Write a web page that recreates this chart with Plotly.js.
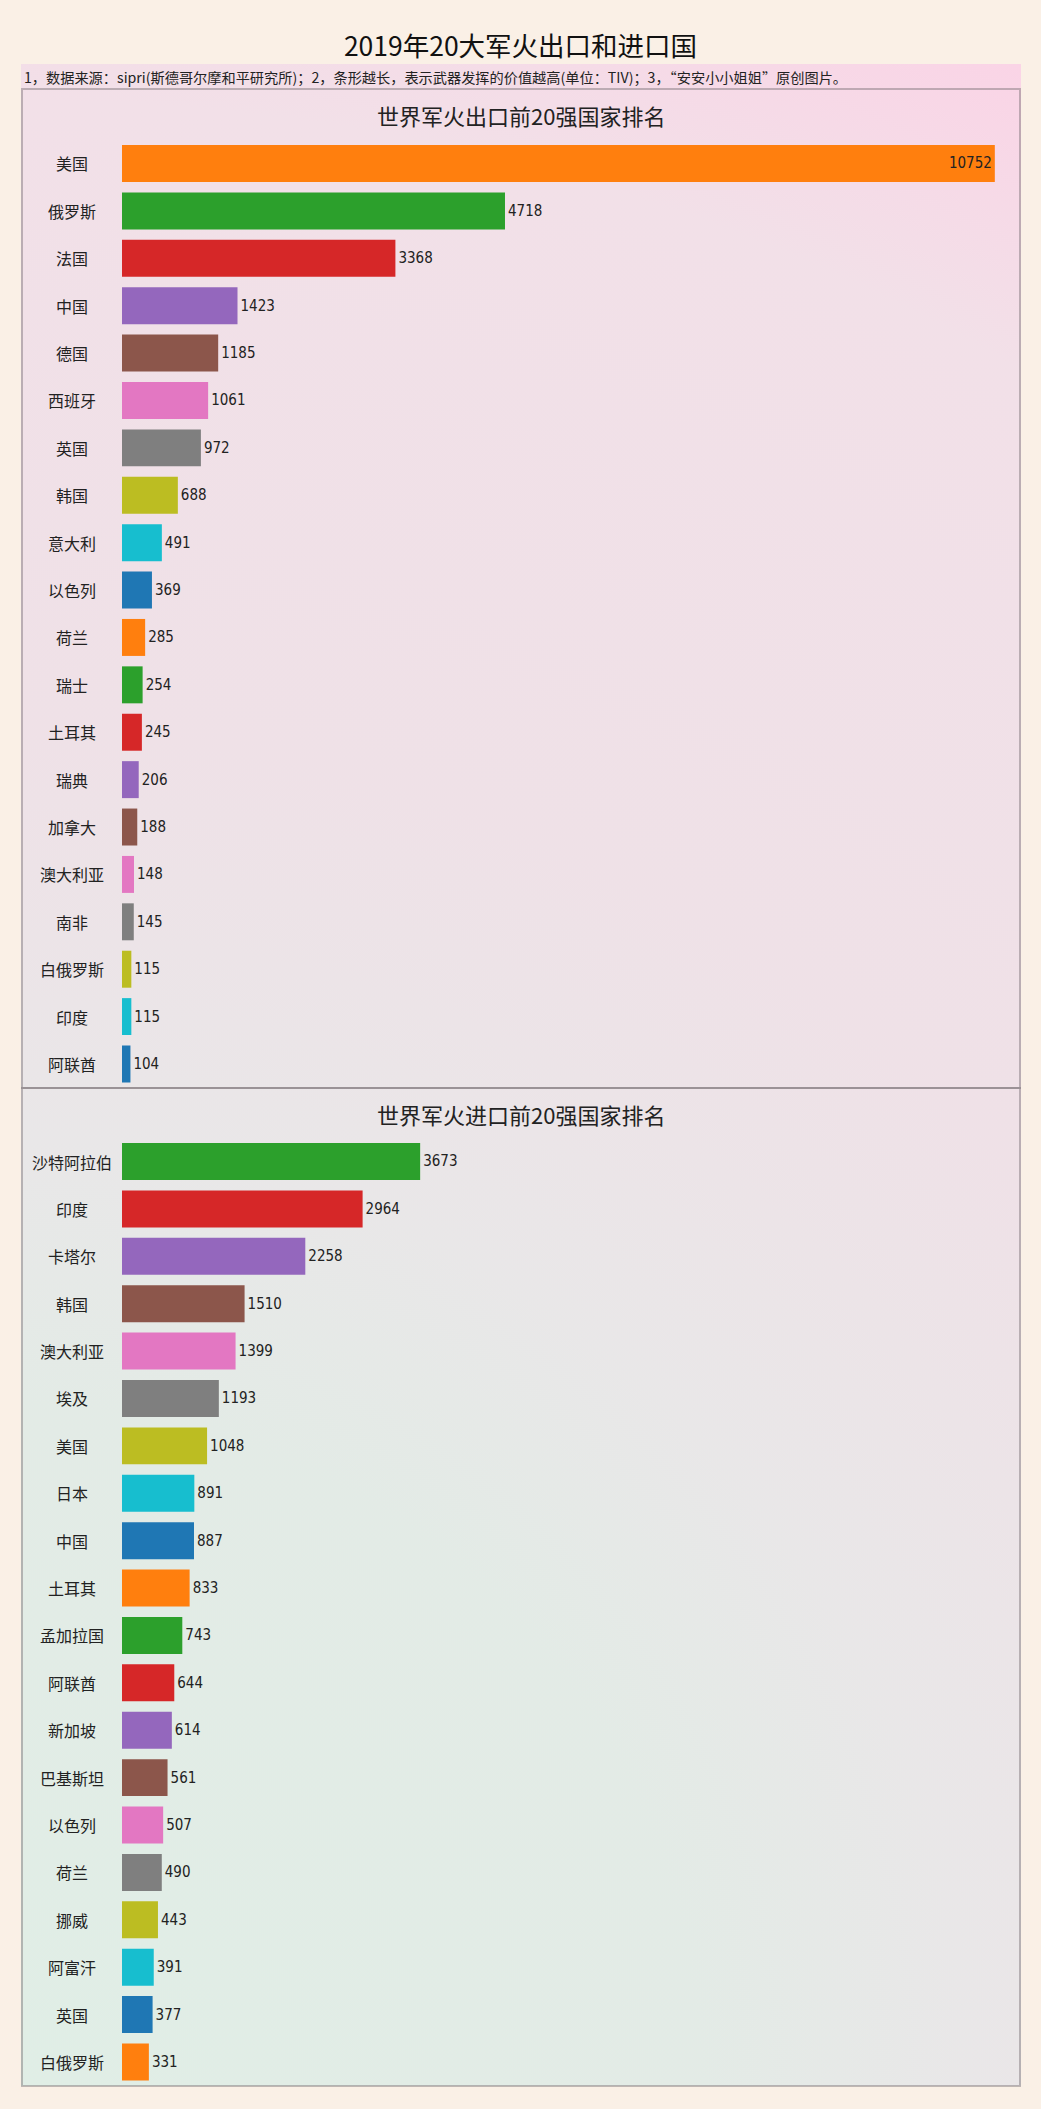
<!DOCTYPE html>
<html><head><meta charset="utf-8">
<script src="https://cdn.plot.ly/plotly-3.0.1.min.js"></script>
<style>html,body{margin:0;padding:0;background:#faf0e6;}#chart{width:1041px;height:2109px;}</style>
</head><body><div id="chart"></div>
<script>
const chartTitle = '2019年20大军火出口和进口国';
const subtitleText = '1，数据来源：sipri(斯德哥尔摩和平研究所)；2，条形越长，表示武器发挥的价值越高(单位：TIV)；3，“安安小小姐姐”原创图片。';
const exportTitle = '世界军火出口前20强国家排名';
const importTitle = '世界军火进口前20强国家排名';

const exportCountries = ['美国','俄罗斯','法国','中国','德国','西班牙','英国','韩国','意大利','以色列','荷兰','瑞士','土耳其','瑞典','加拿大','澳大利亚','南非','白俄罗斯','印度','阿联酋'];
const exportValues = [10752,4718,3368,1423,1185,1061,972,688,491,369,285,254,245,206,188,148,145,115,115,104];

const importCountries = ['沙特阿拉伯','印度','卡塔尔','韩国','澳大利亚','埃及','美国','日本','中国','土耳其','孟加拉国','阿联酋','新加坡','巴基斯坦','以色列','荷兰','挪威','阿富汗','英国','白俄罗斯'];
const importValues = [3673,2964,2258,1510,1399,1193,1048,891,887,833,743,644,614,561,507,490,443,391,377,331];

const palette = ['#1f77b4','#ff7f0e','#2ca02c','#d62728','#9467bd','#8c564b','#e377c2','#7f7f7f','#bcbd22','#17becf'];

const W = 1041, H = 2109;
const px = v => v / W;
const py = v => 1 - v / H;
const FONT = '"Noto Sans CJK SC", "Noto Sans", sans-serif';
const NUMFONT = '"Liberation Sans Narrow", "DejaVu Sans Condensed", "Noto Sans CJK SC", sans-serif';

// background gradient image
function gradientImage() {
  const cw = 1000, ch = 2022;
  const c = document.createElement('canvas');
  c.width = cw; c.height = ch;
  const g = c.getContext('2d');
  const r = Math.sqrt(cw*cw + ch*ch);
  const grad = g.createRadialGradient(0, ch, 0, 0, ch, r);
  grad.addColorStop(0, '#e0eee6');
  grad.addColorStop(0.3, '#e3ebe6');
  grad.addColorStop(0.42, '#e9e7e8');
  grad.addColorStop(0.6, '#efe1e7');
  grad.addColorStop(0.88, '#f2e0e8');
  grad.addColorStop(1, '#fad4e6');
  g.fillStyle = grad;
  g.fillRect(0, 0, cw, ch);
  return c.toDataURL('image/png');
}

const maxVal = Math.max(...exportValues, ...importValues);
const xRange = [0, maxVal * 1.03];

function barTrace(names, values, offset, xa, ya) {
  const idx = names.map((_, i) => i);
  const tf = {family: NUMFONT, size: 15, color: '#222'};
  return {
    type: 'bar', orientation: 'h',
    x: values, y: idx,
    xaxis: xa, yaxis: ya,
    marker: {color: idx.map(i => palette[(i + offset) % palette.length])},
    text: values.map(v => String(v)),
    textposition: values.map(v => v > maxVal * 0.9 ? 'inside' : 'outside'),
    insidetextanchor: 'end',
    textfont: tf, insidetextfont: tf, outsidetextfont: tf,
    constraintext: 'none',
    cliponaxis: false,
    hoverinfo: 'skip',
    showlegend: false
  };
}

const traces = [
  barTrace(exportCountries, exportValues, 1, 'x', 'y'),
  barTrace(importCountries, importValues, 2, 'x2', 'y2')
];

const labelAnn = (names, yref) => names.map((n, i) => ({
  text: n, xref: 'paper', yref: yref, x: px(72), y: i,
  xanchor: 'center', yanchor: 'middle', showarrow: false,
  font: {family: FONT, size: 16, color: '#222'}
}));

const axX = {domain: [px(122), px(1021)], range: xRange, showgrid: false, zeroline: false, showticklabels: false, showline: false, fixedrange: true};
const axY = (d, anchor) => ({domain: d, anchor: anchor, type: 'linear', range: [19.5, -0.5], showgrid: false, zeroline: false, showticklabels: false, showline: false, fixedrange: true});

const layout = {
  width: W, height: H,
  margin: {l: 0, r: 0, t: 0, b: 0, pad: 0},
  paper_bgcolor: '#faf0e6',
  plot_bgcolor: 'rgba(0,0,0,0)',
  bargap: 0.22,
  title: {text: chartTitle, x: 0.5, xanchor: 'center', y: py(47), yanchor: 'middle', font: {family: FONT, size: 26.5, color: '#111'}},
  xaxis: Object.assign({}, axX, {anchor: 'y'}),
  xaxis2: Object.assign({}, axX, {anchor: 'y2'}),
  yaxis: axY([py(1087.7), py(139.8)], 'x'),
  yaxis2: axY([py(2085.7), py(1137.8)], 'x2'),
  images: [{source: gradientImage(), xref: 'paper', yref: 'paper', x: px(21), y: py(64), sizex: 1000 / W, sizey: 2022 / H, sizing: 'stretch', xanchor: 'left', yanchor: 'top', layer: 'below'}],
  shapes: [
    {type: 'rect', xref: 'paper', yref: 'paper', x0: px(22), x1: px(1020), y0: py(89), y1: py(1088), line: {color: 'rgba(120,110,115,0.45)', width: 2}, fillcolor: 'rgba(0,0,0,0)'},
    {type: 'rect', xref: 'paper', yref: 'paper', x0: px(22), x1: px(1020), y0: py(1088), y1: py(2086), line: {color: 'rgba(120,110,115,0.45)', width: 2}, fillcolor: 'rgba(0,0,0,0)'}
  ],
  annotations: [
    {text: subtitleText, xref: 'paper', yref: 'paper', x: px(22), y: py(77), xanchor: 'left', yanchor: 'middle', showarrow: false, font: {family: FONT, size: 14.2, color: '#222'}},
    {text: exportTitle, xref: 'paper', yref: 'paper', x: px(521), y: py(115), xanchor: 'center', yanchor: 'middle', showarrow: false, font: {family: FONT, size: 22, color: '#222'}},
    {text: importTitle, xref: 'paper', yref: 'paper', x: px(521), y: py(1114), xanchor: 'center', yanchor: 'middle', showarrow: false, font: {family: FONT, size: 22, color: '#222'}}
  ].concat(labelAnn(exportCountries, 'y'), labelAnn(importCountries, 'y2'))
};

Plotly.newPlot('chart', traces, layout, {displayModeBar: false, staticPlot: true});
</script>
</body></html>
